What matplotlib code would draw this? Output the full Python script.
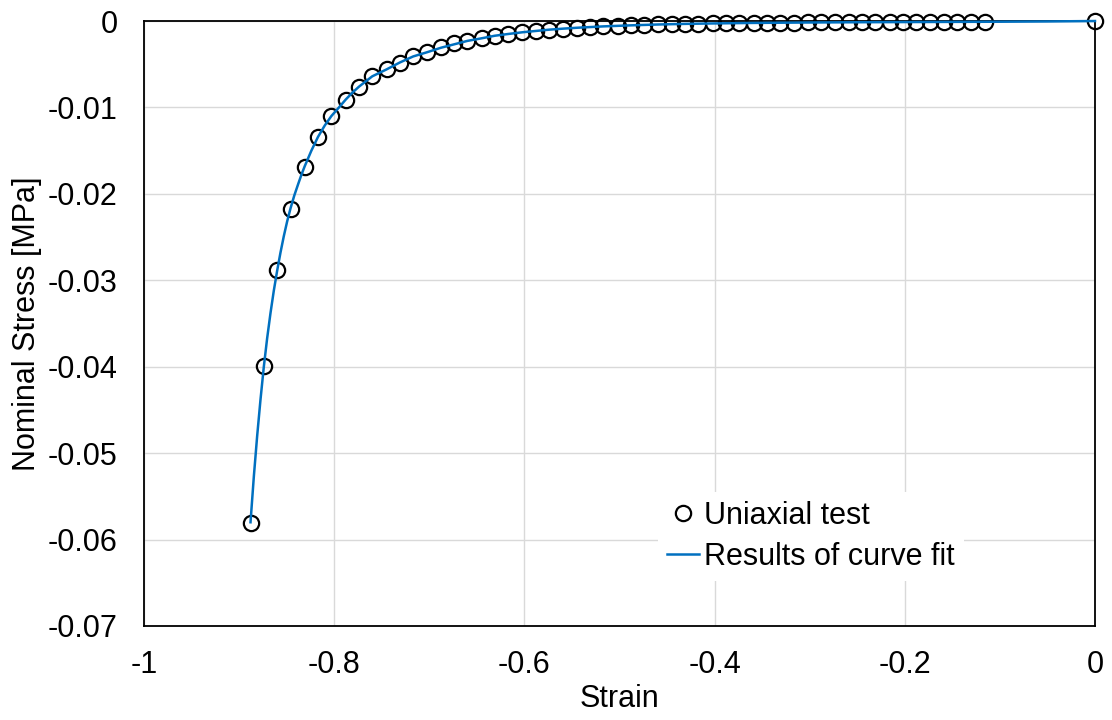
import matplotlib
matplotlib.use("Agg")
import matplotlib.pyplot as plt

plt.rcParams['font.family'] = ['Liberation Sans', 'DejaVu Sans']

# uniaxial test points
test_strain = [-0.888, -0.874, -0.860, -0.845, -0.831, -0.817, -0.803, -0.788, -0.774, -0.760,
               -0.745, -0.731, -0.717, -0.702, -0.688, -0.674, -0.660, -0.645, -0.631, -0.617,
               -0.602, -0.588, -0.574, -0.559, -0.545, -0.531, -0.517, -0.502, -0.488, -0.474,
               -0.459, -0.445, -0.431, -0.417, -0.402, -0.388, -0.374, -0.359, -0.345, -0.331,
               -0.316, -0.302, -0.288, -0.273, -0.259, -0.245, -0.231, -0.216, -0.202, -0.188,
               -0.173, -0.159, -0.145, -0.130, -0.116, 0.0]
test_stress = [-0.0581, -0.0399, -0.0288, -0.0217, -0.0169, -0.0134, -0.0110, -0.0091, -0.0076, -0.0064,
               -0.0056, -0.0048, -0.0041, -0.0036, -0.0030, -0.0026, -0.0023, -0.0020, -0.0017, -0.0015,
               -0.0013, -0.00115, -0.0010, -0.00088, -0.00078, -0.00069, -0.00061, -0.00055, -0.00049, -0.00044,
               -0.00040, -0.00036, -0.00033, -0.00030, -0.00028, -0.00026, -0.00024, -0.00022, -0.00020, -0.00019,
               -0.00018, -0.00017, -0.00016, -0.00015, -0.00015, -0.00014, -0.00014, -0.00013, -0.00013, -0.00012,
               -0.00012, -0.00011, -0.00011, -0.00010, -0.00010, 0.0]

# fitted curve
fit_strain = [-0.888, -0.8845, -0.881, -0.8775, -0.874, -0.8705, -0.867, -0.8635, -0.860, -0.8565,
              -0.853, -0.8495, -0.846, -0.842, -0.838, -0.8345, -0.831, -0.824,
              -0.817, -0.810, -0.803, -0.795, -0.788, -0.781, -0.774, -0.767, -0.760, -0.745, -0.731, -0.717,
              -0.702, -0.688, -0.674, -0.660, -0.645, -0.631, -0.617, -0.602, -0.588, -0.574, -0.559, -0.545,
              -0.517, -0.488, -0.459, -0.431, -0.402, -0.360, -0.300, -0.250, -0.200, -0.150,
              -0.100, -0.050, 0.0]
fit_stress = [-0.0580, -0.0527, -0.0480, -0.0438, -0.0400, -0.0367, -0.0338, -0.0312, -0.0289, -0.0268,
              -0.0249, -0.0232, -0.0217, -0.0202, -0.0189, -0.0178, -0.0168, -0.0150,
              -0.0134, -0.0121, -0.0110, -0.0100, -0.0091, -0.0083, -0.0076, -0.0070, -0.0064, -0.0056, -0.0048, -0.0041,
              -0.0036, -0.0031, -0.0027, -0.0023, -0.0020, -0.0017, -0.0015, -0.0013, -0.00115, -0.0010, -0.00088, -0.00078,
              -0.00062, -0.00050, -0.00040, -0.00033, -0.00028, -0.00022, -0.00017, -0.00014, -0.00012, -0.00010,
              -0.00008, -0.00005, 0.0]

xticks = [-1, -0.8, -0.6, -0.4, -0.2, 0]
xtick_labels = ['-1', '-0.8', '-0.6', '-0.4', '-0.2', '0']
yticks = [0, -0.01, -0.02, -0.03, -0.04, -0.05, -0.06, -0.07]
ytick_labels = ['0', '-0.01', '-0.02', '-0.03', '-0.04', '-0.05', '-0.06', '-0.07']

fig = plt.figure(figsize=(11.12, 7.2), dpi=100)
ax = fig.add_axes([0.1295, 0.1306, 0.8552, 0.8402])

ax.plot(test_strain, test_stress, linestyle='none', marker='o', markersize=11,
        markerfacecolor='none', markeredgecolor='black', markeredgewidth=1.6,
        label='Uniaxial test', zorder=3, clip_on=False)
ax.plot(fit_strain, fit_stress, color='#0070C0', linewidth=1.8,
        label='Results of curve fit', zorder=4, clip_on=False)

ax.set_xlim(-1, 0)
ax.set_ylim(-0.07, 0)
ax.set_xticks(xticks)
ax.set_xticklabels(xtick_labels)
ax.set_yticks(yticks)
ax.set_yticklabels(ytick_labels)
ax.tick_params(axis='both', length=0, labelsize=22)
ax.tick_params(axis='y', pad=19)
ax.tick_params(axis='x', pad=17)
ax.grid(True, color='#d9d9d9', linewidth=1)
ax.set_axisbelow(True)
for s in ax.spines.values():
    s.set_color('black')
    s.set_linewidth(1.3)

ax.set_xlabel('Strain', fontsize=22, labelpad=3)
ax.set_ylabel('Nominal Stress [MPa]', fontsize=22, labelpad=4)

leg = ax.legend(loc='upper left', bbox_to_anchor=(0.578, 0.338), bbox_transform=fig.transFigure,
                fontsize=22, frameon=True, framealpha=1, edgecolor='white',
                handlelength=1.05, handletextpad=0.15, labelspacing=0.35, borderpad=0.3)
leg.get_frame().set_linewidth(0)

fig.savefig('out.png', dpi=100)
